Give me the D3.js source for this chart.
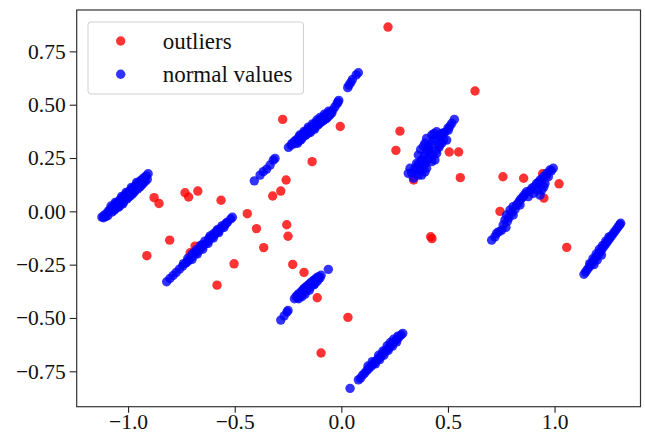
<!DOCTYPE html>
<html><head><meta charset="utf-8">
<script src="https://cdn.jsdelivr.net/npm/d3@7"></script>
<style>
html,body{margin:0;padding:0;background:#fff;}
svg{display:block;}
svg text{font-family:"Liberation Serif","Times New Roman",serif !important;}
</style></head>
<body><svg id="chart" width="645" height="434"></svg>
<script>
const xTicks = [-1.0, -0.5, 0.0, 0.5, 1.0];
const xTickLabels = ["\u22121.0", "\u22120.5", "0.0", "0.5", "1.0"];
const yTicks = [-0.75, -0.5, -0.25, 0.0, 0.25, 0.5, 0.75];
const yTickLabels = ["\u22120.75", "\u22120.50", "\u22120.25", "0.00", "0.25", "0.50", "0.75"];
const seriesNames = ["outliers", "normal values"];

const outliers = [
[0.219,0.864],[0.627,0.564],[-0.275,0.431],[-0.005,0.398],[0.275,0.376],[0.256,0.286],[0.506,0.278],[0.550,0.278],
[-0.137,0.233],[0.758,0.162],[0.855,0.155],[0.558,0.158],[0.944,0.176],[0.339,0.147],[-0.259,0.147],[1.021,0.129],
[-0.673,0.095],[-0.284,0.095],[-0.733,0.087],[-0.322,0.072],[-0.716,0.067],[-0.878,0.064],[0.950,0.062],[-0.564,0.052],
[-0.855,0.037],[0.744,0.0],[-0.441,-0.011],[-0.256,-0.063],[-0.398,-0.081],[-0.250,-0.117],[0.419,-0.119],[0.425,-0.128],
[-0.805,-0.135],[-0.686,-0.163],[-0.364,-0.170],[1.057,-0.169],[-0.709,-0.194],[-0.912,-0.208],[-0.503,-0.246],
[-0.228,-0.249],[-0.175,-0.286],[-0.583,-0.346],[-0.113,-0.405],[0.031,-0.497],[-0.095,-0.664]
];

const normalA = [
[-1.123,-0.027],[-1.112,-0.018],[-1.100,-0.008],[-1.090,0.003],[-1.082,0.010],[-1.072,0.020],[-1.063,0.030],[-1.055,0.036],
[-1.046,0.046],[-1.036,0.055],[-1.027,0.063],[-1.018,0.072],[-1.008,0.081],[-0.998,0.090],[-0.989,0.098],[-0.980,0.107],
[-0.970,0.115],[-0.961,0.124],[-0.952,0.133],[-0.943,0.142],[-0.934,0.150],[-0.925,0.158],[-0.915,0.166],[-0.906,0.176],
[-1.095,-0.020],[-1.075,-0.003],[-1.058,0.012],[-1.040,0.025],[-1.022,0.042],[-1.005,0.058],[-0.990,0.072],[-0.972,0.090],
[-0.955,0.105],[-0.938,0.122],[-0.920,0.140],
[-1.080,0.025],[-1.060,0.042],[-1.030,0.070],[-1.010,0.088],[-0.985,0.112],[-0.960,0.135],
[-1.115,-0.030],[-1.105,-0.025],[-1.065,0.005],[-1.045,0.020],[-1.025,0.035],[-1.000,0.065],[-0.980,0.080],
[-0.965,0.100],[-0.945,0.115],[-0.930,0.130],[-0.910,0.150]
];
const normalB = [
[-0.819,-0.330],[-0.804,-0.315],[-0.789,-0.301],[-0.774,-0.286],[-0.759,-0.271],[-0.744,-0.257],[-0.729,-0.242],[-0.714,-0.227],
[-0.699,-0.212],[-0.684,-0.198],[-0.669,-0.183],[-0.654,-0.168],[-0.639,-0.154],[-0.624,-0.139],[-0.609,-0.124],[-0.594,-0.110],
[-0.579,-0.095],[-0.564,-0.080],[-0.549,-0.065],[-0.534,-0.051],[-0.519,-0.036],[-0.511,-0.028],
[-0.720,-0.220],[-0.700,-0.200],[-0.680,-0.180],[-0.660,-0.160],[-0.640,-0.140],[-0.620,-0.125],[-0.600,-0.105],[-0.580,-0.085],[-0.560,-0.068],
[-0.700,-0.225],[-0.675,-0.200],[-0.650,-0.178],[-0.625,-0.150],[-0.600,-0.125],[-0.575,-0.100],[-0.550,-0.075],
[-0.740,-0.245],[-0.720,-0.235],[-0.690,-0.195],[-0.655,-0.158],[-0.615,-0.115],[-0.585,-0.092],[-0.540,-0.055]
];
const normalC = [
[-0.408,0.143],[-0.381,0.170],[-0.366,0.186],[-0.350,0.198],[-0.334,0.217],[-0.319,0.240],[-0.311,0.248],
[-0.248,0.300],[-0.232,0.318],[-0.220,0.328],[-0.210,0.336],[-0.200,0.345],[-0.190,0.354],[-0.180,0.362],[-0.170,0.371],
[-0.160,0.380],[-0.150,0.388],[-0.140,0.396],[-0.130,0.405],[-0.120,0.413],[-0.110,0.420],[-0.100,0.428],[-0.090,0.436],
[-0.080,0.444],[-0.070,0.452],[-0.060,0.458],[-0.050,0.466],[-0.040,0.475],
[-0.215,0.318],[-0.200,0.330],[-0.185,0.342],[-0.170,0.355],[-0.155,0.367],[-0.140,0.380],[-0.125,0.392],[-0.110,0.405],
[-0.095,0.418],[-0.080,0.430],[-0.065,0.440],[-0.195,0.358],[-0.175,0.375],[-0.155,0.395],[-0.135,0.410],[-0.115,0.428],
[-0.235,0.310],[-0.205,0.320],[-0.190,0.335],[-0.165,0.360],[-0.145,0.370],[-0.125,0.385],[-0.105,0.410],[-0.085,0.425],
[-0.070,0.435],[-0.055,0.450],[-0.045,0.460],[-0.100,0.440],[-0.080,0.455],[-0.060,0.470],
[-0.030,0.490],[-0.020,0.505],[-0.012,0.520],[-0.016,0.512],[0.030,0.580],[0.036,0.592],[0.045,0.605],[0.052,0.618],
[0.070,0.640],[0.080,0.650]
];
const normalD = [
[-0.284,-0.510],[-0.268,-0.490],[-0.255,-0.472],[-0.250,-0.465],[-0.220,-0.410],[-0.212,-0.400],[-0.205,-0.392],[-0.198,-0.386],
[-0.190,-0.378],[-0.182,-0.370],[-0.175,-0.362],[-0.168,-0.356],[-0.160,-0.350],[-0.152,-0.343],[-0.145,-0.336],[-0.137,-0.330],
[-0.130,-0.324],[-0.122,-0.318],[-0.115,-0.312],[-0.107,-0.306],[-0.100,-0.312],[-0.095,-0.300],[-0.205,-0.405],[-0.190,-0.395],
[-0.175,-0.380],[-0.160,-0.365],[-0.145,-0.355],[-0.130,-0.345],[-0.115,-0.330],[-0.061,-0.272],
[-0.200,-0.410],[-0.185,-0.400],[-0.170,-0.388],[-0.150,-0.370],[-0.125,-0.340],[-0.110,-0.322]
];
const normalE = [
[0.041,-0.830],[0.080,-0.790],[0.090,-0.782],[0.100,-0.768],[0.110,-0.758],[0.120,-0.746],[0.130,-0.736],[0.140,-0.726],
[0.150,-0.715],[0.160,-0.704],[0.170,-0.694],[0.180,-0.684],[0.190,-0.673],[0.200,-0.662],[0.210,-0.652],[0.220,-0.642],
[0.230,-0.631],[0.240,-0.620],[0.250,-0.610],[0.260,-0.600],[0.270,-0.590],[0.280,-0.580],[0.288,-0.572],
[0.160,-0.715],[0.180,-0.695],[0.200,-0.675],[0.220,-0.652],[0.240,-0.632],[0.260,-0.612],[0.175,-0.675],[0.215,-0.630],[0.245,-0.600],
[0.125,-0.725],[0.145,-0.705],[0.195,-0.655],[0.230,-0.615],[0.265,-0.585]
];
const normalF = [
[0.314,0.178],[0.322,0.202],[0.338,0.155],[0.361,0.170],[0.369,0.209],[0.361,0.264],[0.392,0.319],[0.400,0.342],
[0.424,0.358],[0.447,0.373],[0.478,0.366],[0.502,0.381],[0.518,0.413],[0.530,0.431],[0.471,0.319],[0.447,0.272],
[0.424,0.233],[0.400,0.202],[0.377,0.170],[0.416,0.272],[0.384,0.241],[0.408,0.303],[0.463,0.350],[0.494,0.334],
[0.439,0.241],[0.353,0.225],[0.372,0.290],[0.385,0.305],[0.435,0.365],[0.458,0.300],[0.350,0.190],[0.392,0.185],
[0.330,0.180],[0.345,0.200],[0.360,0.220],[0.375,0.240],[0.390,0.260],[0.400,0.280],[0.410,0.290],[0.420,0.310],
[0.430,0.330],[0.440,0.340],[0.455,0.355],[0.470,0.365],[0.485,0.370],[0.500,0.390],[0.510,0.400],[0.395,0.225],
[0.410,0.245],[0.430,0.260],[0.445,0.285],[0.460,0.310],[0.480,0.335],[0.370,0.195],[0.385,0.215]
];
const normalG = [
[0.705,-0.135],[0.728,-0.103],[0.752,-0.088],[0.772,-0.075],[0.767,-0.041],[0.775,-0.017],[0.791,0.006],[0.806,-0.017],
[0.822,0.030],[0.838,0.053],[0.853,0.069],[0.869,0.092],[0.893,0.108],[0.916,0.131],[0.932,0.147],[0.947,0.162],
[0.963,0.178],[0.978,0.194],[0.994,0.202],[0.932,0.076],[0.940,0.100],[0.955,0.131],[0.971,0.162],[0.838,0.030],
[0.806,0.022],[0.759,-0.064],[0.877,0.069],[0.900,0.084],
[0.720,-0.120],[0.740,-0.095],[0.780,-0.045],[0.785,-0.030],[0.800,-0.005],[0.815,0.010],[0.830,0.040],[0.845,0.060],
[0.860,0.080],[0.885,0.095],[0.905,0.115],[0.925,0.135],[0.945,0.150],[0.960,0.165],[0.985,0.190],[0.920,0.100],[0.950,0.115]
];
const normalH = [
[1.138,-0.295],[1.146,-0.284],[1.154,-0.272],[1.162,-0.262],[1.170,-0.250],[1.178,-0.240],[1.186,-0.228],[1.194,-0.217],
[1.202,-0.206],[1.210,-0.195],[1.218,-0.184],[1.226,-0.172],[1.234,-0.161],[1.242,-0.150],[1.250,-0.139],[1.258,-0.128],
[1.266,-0.117],[1.274,-0.106],[1.282,-0.095],[1.290,-0.084],[1.298,-0.073],[1.306,-0.062],[1.310,-0.056],
[1.165,-0.245],[1.180,-0.222],[1.195,-0.200],[1.210,-0.178],[1.225,-0.160],[1.240,-0.140],[1.255,-0.120],
[1.185,-0.250],[1.200,-0.228],[1.220,-0.205]
];
const normals = [].concat(normalA, normalB, normalC, normalD, normalE, normalF, normalG, normalH);

const plot = {left: 76.7, top: 10, right: 640.5, bottom: 406.7};
const x = d3.scaleLinear().domain([-1.241, 1.403]).range([plot.left, plot.right]);
const y = d3.scaleLinear().domain([-0.916, 0.944]).range([plot.bottom, plot.top]);

const svg = d3.select("#chart");
const R = 4.7;

svg.append("g").selectAll("circle").data(outliers).join("circle")
  .attr("cx", d => x(d[0])).attr("cy", d => y(d[1])).attr("r", R)
  .attr("fill", "red").attr("fill-opacity", 0.8);
svg.append("g").selectAll("circle").data(normals).join("circle")
  .attr("cx", d => x(d[0])).attr("cy", d => y(d[1])).attr("r", R)
  .attr("fill", "blue").attr("fill-opacity", 0.8);

svg.append("rect").attr("x", plot.left).attr("y", plot.top)
  .attr("width", plot.right - plot.left).attr("height", plot.bottom - plot.top)
  .attr("fill", "none").attr("stroke", "#333").attr("stroke-width", 1.2);

const xAxis = d3.axisBottom(x).tickValues(xTicks).tickSize(6).tickPadding(1)
  .tickFormat((d, i) => xTickLabels[i]);
const gx = svg.append("g").attr("transform", `translate(0,${plot.bottom})`).call(xAxis);
gx.select(".domain").remove();
gx.selectAll("line").attr("stroke", "#222").attr("stroke-width", 1.1);
gx.selectAll("text").attr("font-size", 21.5).attr("fill", "#111");

const yAxis = d3.axisLeft(y).tickValues(yTicks).tickSize(7).tickPadding(4)
  .tickFormat((d, i) => yTickLabels[i]);
const gy = svg.append("g").attr("transform", `translate(${plot.left},0)`).call(yAxis);
gy.select(".domain").remove();
gy.selectAll("line").attr("stroke", "#222").attr("stroke-width", 1.1);
gy.selectAll("text").attr("font-size", 21.5).attr("fill", "#111");

const lg = svg.append("g");
lg.append("rect").attr("x", 88).attr("y", 22).attr("width", 215.5).attr("height", 72)
  .attr("rx", 3).attr("fill", "#fff").attr("fill-opacity", 0.8)
  .attr("stroke", "#d0d0d0").attr("stroke-width", 1);
const legendColors = ["red", "blue"];
seriesNames.forEach((name, i) => {
  const cy = 41 + i * 33.3;
  lg.append("circle").attr("cx", 120.7).attr("cy", cy).attr("r", R)
    .attr("fill", legendColors[i]).attr("fill-opacity", 0.8);
  lg.append("text").attr("x", 162.7).attr("y", cy + 7.5).attr("font-size", 23)
    .attr("fill", "#111").text(name);
});
</script></body></html>
